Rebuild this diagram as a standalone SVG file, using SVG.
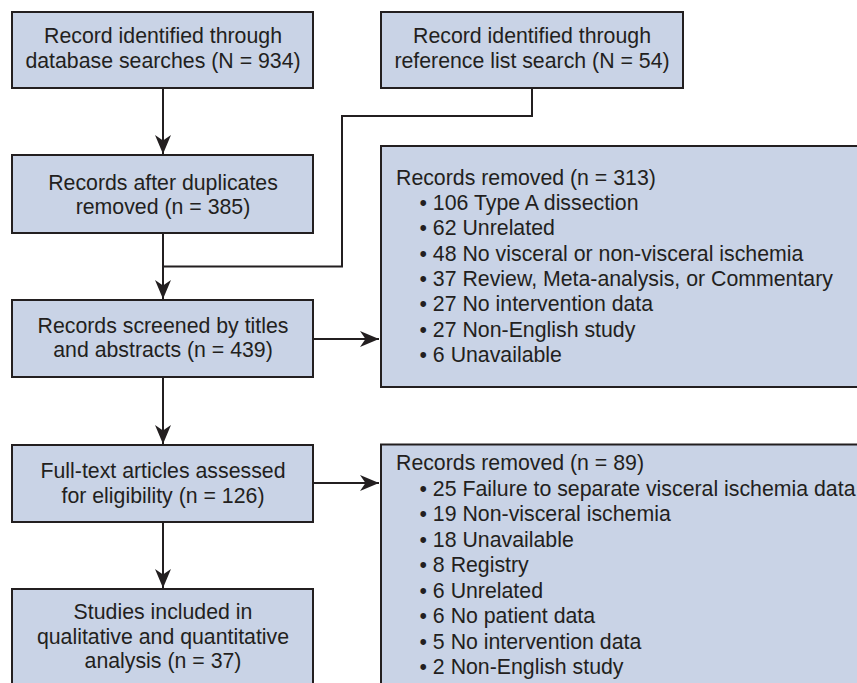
<svg xmlns="http://www.w3.org/2000/svg" width="857" height="683" viewBox="0 0 857 683">
<style>
.box{fill:#c9d3e6;stroke:#231f20;stroke-width:2}
.t{font-family:"Liberation Sans",Arial,sans-serif;font-size:21.3px;fill:#231f20}
.c{text-anchor:middle}
.ln{fill:none;stroke:#231f20;stroke-width:2}
</style>
<defs>
<marker id="ah" markerUnits="userSpaceOnUse" markerWidth="22" markerHeight="18" viewBox="-20 -9 22 18" refX="0" refY="0" orient="auto">
<path d="M0,0 L-19,-8 L-13.5,0 L-19,8 Z" fill="#231f20"/>
</marker>
</defs>
<rect width="857" height="683" fill="#fff"/>
<g id="connectors">
<path class="ln" d="M163,88 V154" marker-end="url(#ah)"/>
<path class="ln" d="M532,88 V116 H342 V266.5 H163"/>
<path class="ln" d="M163,233 V299" marker-end="url(#ah)"/>
<path class="ln" d="M313,339 H379" marker-end="url(#ah)"/>
<path class="ln" d="M163,377 V444" marker-end="url(#ah)"/>
<path class="ln" d="M313,483 H379" marker-end="url(#ah)"/>
<path class="ln" d="M163,522 V588" marker-end="url(#ah)"/>
</g>
<g id="n1">
<rect class="box" x="12" y="12" width="301" height="76"/>
<text class="t c" x="163" y="43">Record identified through</text>
<text class="t c" x="163" y="68">database searches (N = 934)</text>
</g>
<g id="n2">
<rect class="box" x="381" y="12" width="302" height="76"/>
<text class="t c" x="532" y="43">Record identified through</text>
<text class="t c" x="532" y="68">reference list search (N = 54)</text>
</g>
<g id="n3">
<rect class="box" x="12" y="155" width="301" height="78"/>
<text class="t c" x="163" y="189.5">Records after duplicates</text>
<text class="t c" x="163" y="214">removed (n = 385)</text>
</g>
<g id="n4">
<rect class="box" x="12" y="300" width="301" height="77"/>
<text class="t c" x="163" y="332.5">Records screened by titles</text>
<text class="t c" x="163" y="357">and abstracts (n = 439)</text>
</g>
<g id="n5">
<rect class="box" x="381" y="146" width="490" height="241"/>
<text class="t" x="396" y="185">Records removed (n = 313)</text>
<text class="t" x="419.5" y="210">• 106 Type A dissection</text>
<text class="t" x="419.5" y="235.3">• 62 Unrelated</text>
<text class="t" x="419.5" y="260.6">• 48 No visceral or non-visceral ischemia</text>
<text class="t" x="419.5" y="285.9">• 37 Review, Meta-analysis, or Commentary</text>
<text class="t" x="419.5" y="311.2">• 27 No intervention data</text>
<text class="t" x="419.5" y="336.5">• 27 Non-English study</text>
<text class="t" x="419.5" y="361.8">• 6 Unavailable</text>
</g>
<g id="n6">
<rect class="box" x="12" y="445" width="301" height="77"/>
<text class="t c" x="163" y="478">Full-text articles assessed</text>
<text class="t c" x="163" y="502.5">for eligibility (n = 126)</text>
</g>
<g id="n7">
<rect class="box" x="381" y="444.5" width="490" height="260"/>
<text class="t" x="396" y="470">Records removed (n = 89)</text>
<text class="t" x="419.5" y="495.5">• 25 Failure to separate visceral ischemia data</text>
<text class="t" x="419.5" y="521">• 19 Non-visceral ischemia</text>
<text class="t" x="419.5" y="546.5">• 18 Unavailable</text>
<text class="t" x="419.5" y="572">• 8 Registry</text>
<text class="t" x="419.5" y="597.5">• 6 Unrelated</text>
<text class="t" x="419.5" y="623">• 6 No patient data</text>
<text class="t" x="419.5" y="648.5">• 5 No intervention data</text>
<text class="t" x="419.5" y="674">• 2 Non-English study</text>
</g>
<g id="n8">
<rect class="box" x="12" y="589" width="301" height="110"/>
<text class="t c" x="163" y="619">Studies included in</text>
<text class="t c" x="163" y="643.5">qualitative and quantitative</text>
<text class="t c" x="163" y="668">analysis (n = 37)</text>
</g>
</svg>
